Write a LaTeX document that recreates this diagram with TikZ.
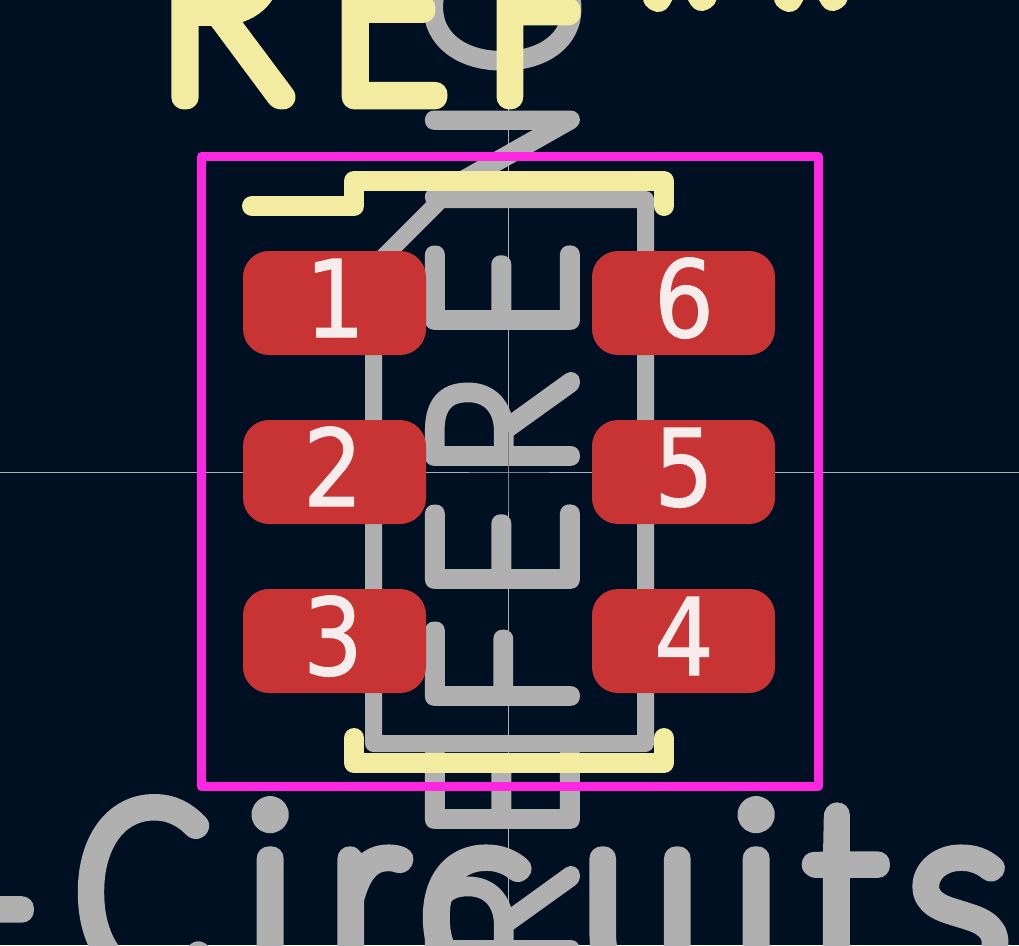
\documentclass[tikz,border=0pt]{standalone}
\usepackage{fontspec}
\setmainfont{DejaVu Sans}
\newfontfamily\numfont[FakeStretch=.88,FakeBold=1]{DejaVu Sans}
\definecolor{bgc}{HTML}{001023}
\definecolor{fab}{HTML}{B0B0B0}
\definecolor{silk}{HTML}{F3ECA0}
\definecolor{crt}{HTML}{FF26E2}
\definecolor{padc}{HTML}{C83434}
\definecolor{padt}{HTML}{F7ECEC}
\newcommand\gfont[3]{\pgfsetroundjoin\pgfsetroundcap\fontspec{Lato Hairline}[FakeBold=#2,FakeStretch=#3]\fontsize{#1}{#1}\selectfont}
\tikzset{
 fabline/.style={draw=fab,line width=17,line join=round,line cap=round},
 silkline/.style={draw=silk,line width=20,line join=round,line cap=round},
 pad/.style={fill=padc,rounded corners=26},
 padnum/.style={text=padt,inner sep=0,anchor=base,font=\numfont\fontsize{107}{107}\selectfont},
 fabtxt/.style={text=fab,inner sep=0,anchor=base west,rotate=90,font=\gfont{196}{9}{#1}},
 fabtxt/.default=.83,
 silktxt/.style={text=silk,inner sep=0,anchor=base west,font=\gfont{247}{10}{#1}},
 silktxt/.default=1,
 startxt/.style={text=silk,inner sep=0,anchor=base,rotate=30,font=\gfont{330}{7.5}{1}},
 bigtxt/.style={text=fab,inner sep=0,anchor=base west,font=\gfont{240}{10}{#1}},
 bigtxt/.default=1,
}
\begin{document}
\begin{tikzpicture}[x=1pt,y=-1pt]
\useasboundingbox (0,0) rectangle (1019,945);
\clip (0,0) rectangle (1019,945);
\fill[bgc] (0,0) rectangle (1019,945);
\draw[fab,line width=1] (508.5,0) -- (508.5,945);
\draw[fab,line width=1] (0,472) -- (1019,472);
% fabrication outline
\draw[fabline] (441,199.5) -- (645.5,199.5) -- (645.5,743.5) -- (373.5,743.5) -- (373.5,267) -- cycle;
% rotated value text
\node[fabtxt=.86] (v1) at (571,970.7) {R};
\node[fabtxt] (v2) at (571,839) {E};
\node[fabtxt] (v3) at (571,716) {F};
\node[fabtxt] (v4) at (571,599) {E};
\node[fabtxt=.86] (v5) at (571,476.7) {R};
\node[fabtxt] (v6) at (571,340) {E};
\node[fabtxt=.77] (v7) at (571,215) {N};
\node[fabtxt] (v8) at (571,73) {C};
% bottom text
\node[bigtxt] (b0) at (-49,980) {-};
\node[bigtxt=.8] (b1) at (76.6,976) {C};
\node[bigtxt] (b2) at (245,976) {i};
\node[bigtxt=.92] (b3) at (329,976) {r};
\node[bigtxt] (b4) at (420,976) {c};
\node[bigtxt=.88] (b5) at (583,976) {u};
\node[bigtxt] (b6) at (731,976) {i};
\node[bigtxt] (b7) at (806,976) {t};
\node[bigtxt] (b8) at (909,976) {s};
\draw[draw=black!50,line width=1] (508.5,432) -- (508.5,512);
\draw[draw=black!50,line width=1] (469,472) -- (549,472);
% silkscreen
\draw[silkline] (252,206) -- (354,206) -- (354,181) -- (664,181) -- (664,206);
\draw[silkline] (354,738) -- (354,763) -- (664,763) -- (664,738);
\node[silktxt=.89] (s1) at (158,97) {R};
\node[silktxt=.8] (s2) at (331,97) {E};
\node[silktxt=.67] (s3) at (489.5,97) {F};
\node[startxt] (s4) at (779.5,130) {*};
\node[startxt] (s5) at (910.5,130) {*};
% courtyard
\draw[crt,line width=9,line join=round] (201.5,156.5) rectangle (818,786.5);
% pads
\fill[pad] (243,251) rectangle (426,355);
\fill[pad] (243,420) rectangle (426,524);
\fill[pad] (243,589) rectangle (426,693);
\fill[pad] (592,251) rectangle (775,355);
\fill[pad] (592,420) rectangle (775,524);
\fill[pad] (592,589) rectangle (775,693);
\node[padnum] (p1) at (335,337) {1};
\node[padnum] (p2) at (333,506) {2};
\node[padnum] (p3) at (333,675) {3};
\node[padnum] (p4) at (684,675) {4};
\node[padnum] (p5) at (684,506) {5};
\node[padnum] (p6) at (684,337) {6};
\end{tikzpicture}
\end{document}
